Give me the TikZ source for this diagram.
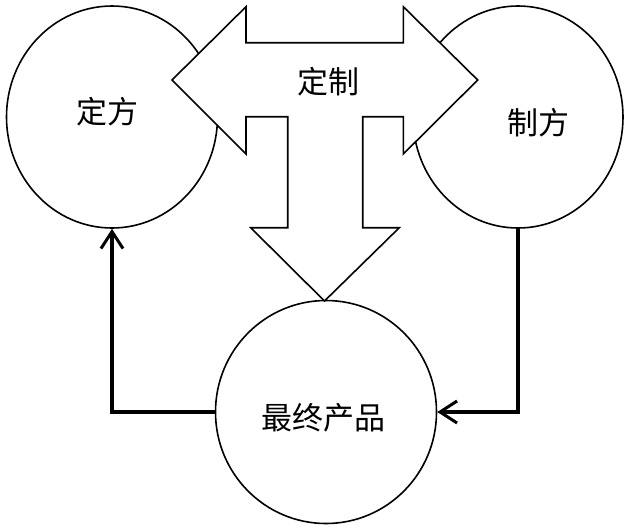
\documentclass[tikz,border=0pt]{standalone}
\usepackage{fontspec}
\newfontfamily\cjk{Noto Sans CJK SC}
\usetikzlibrary{shapes.geometric,arrows.meta}
\tikzset{
  circ/.style={draw=black, line width=1.6pt, ellipse, inner sep=0pt, fill=white},
  lbl/.style={font=\cjk\fontsize{31}{31}\selectfont, inner sep=0pt},
  conn/.style={line width=3.4pt, line join=miter, -{Straight Barb[length=17pt,width=22pt,line width=3pt]}},
  bigarrow/.style={draw=black, fill=white, line width=1.6pt, line join=miter}
}
\begin{document}
\begin{tikzpicture}[x=1pt,y=-1pt]
\useasboundingbox (0,0) rectangle (629,531);
% circles
\node[circ, minimum width=211pt, minimum height=222pt] (L) at (112,117) {};
\node[circ, minimum width=210pt, minimum height=222pt] (R) at (518,117) {};
\node[circ, minimum width=221pt, minimum height=223pt] (B) at (326,412) {};
% connectors
\draw[conn] (B.west) -| (L.south);
\draw[conn] (R.south) |- (B.east);
% T arrow
\draw[bigarrow] (172,80) -- (246,6.7) -- (246,42.7) -- (403.3,42.7) -- (403.3,6.7)
  -- (477.7,80) -- (403.3,154) -- (403.3,116.7) -- (362.7,116.7) -- (362.7,227.7)
  -- (399.3,227.7) -- (324.5,301) -- (250.7,227.7) -- (287.7,227.7) -- (287.7,116.7)
  -- (246,116.7) -- (246,154) -- cycle;
% labels
\node[lbl] (tL) at (107,112) {定方};
\node[lbl] (tR) at (538,123) {制方};
\node[lbl] (tB) at (323,418) {最终产品};
\node[lbl] (tT) at (328,82) {定制};
\end{tikzpicture}
\end{document}
